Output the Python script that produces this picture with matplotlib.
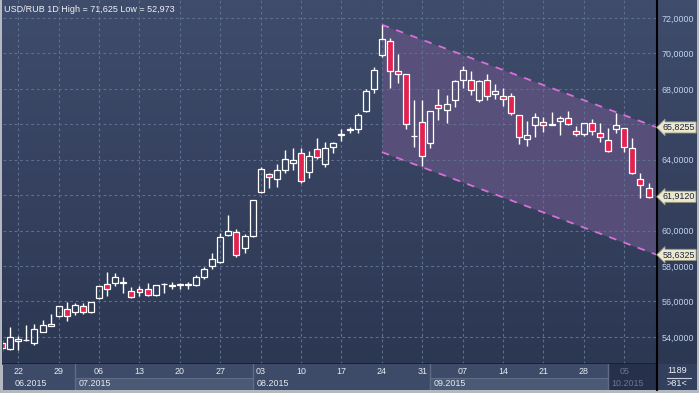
import numpy as np
import pandas as pd
import matplotlib.pyplot as plt
import matplotlib.transforms as mtransforms
from matplotlib.colors import LinearSegmentedColormap

plt.rcParams['font.family'] = ['Liberation Sans', 'DejaVu Sans']

W, H = 699, 393

# дневные свечи USD/RUB, 18.06.2015 - 08.10.2015
dates = pd.bdate_range('2015-06-18', periods=81)
opens = [53.65, 53.30, 53.78, 53.82, 53.68, 54.30, 54.62, 55.18, 55.56, 55.43,
         55.75, 55.43, 56.22, 56.97, 57.03, 57.10, 56.59, 56.69, 56.69, 56.35,
         56.98, 56.90, 56.93, 56.95, 56.92, 57.37, 58.00, 58.25, 59.75, 59.91,
         59.00, 59.68, 62.16, 63.18, 62.90, 63.40, 63.80, 64.36, 63.29, 64.62,
         63.74, 64.74, 65.42, 65.69, 65.72, 66.77, 67.98, 69.89, 70.72, 68.99,
         68.82, 65.36, 66.11, 64.93, 67.07, 66.79, 67.36, 68.48, 68.48, 67.36,
         68.48, 67.71, 67.58, 67.60, 66.53, 65.15, 65.94, 66.11, 66.01, 66.17,
         66.34, 65.61, 65.45, 66.06, 65.49, 65.11, 65.75, 65.78, 64.65, 62.90,
         62.39]
highs = [53.80, 54.55, 54.05, 54.67, 54.73, 54.96, 55.30, 55.77, 55.97, 55.90,
         55.93, 55.99, 56.90, 57.67, 57.59, 57.37, 56.84, 56.88, 57.06, 56.93,
         57.06, 57.10, 57.06, 57.10, 57.52, 57.97, 58.72, 59.88, 60.88, 60.07,
         59.80, 61.75, 63.61, 63.27, 63.76, 64.55, 64.66, 64.65, 64.49, 65.23,
         65.00, 65.00, 65.74, 65.87, 66.62, 67.99, 69.25, 71.625, 70.85, 69.95,
         68.84, 67.37, 67.37, 66.77, 67.99, 67.65, 68.50, 69.29, 69.01, 68.48,
         68.84, 68.28, 68.03, 67.79, 66.55, 66.21, 66.62, 66.40, 66.70, 66.47,
         66.73, 65.91, 66.10, 66.28, 66.09, 65.78, 66.62, 65.80, 65.21, 63.24,
         62.67]
lows = [53.20, 53.25, 53.27, 53.78, 53.56, 54.25, 54.60, 55.15, 54.92, 55.24,
        55.27, 55.35, 56.13, 56.31, 56.88, 56.50, 56.18, 56.31, 56.33, 56.33,
        56.46, 56.70, 56.69, 56.69, 56.85, 57.26, 57.82, 58.16, 59.72, 58.50,
        58.76, 59.66, 62.10, 62.39, 62.48, 63.27, 63.44, 62.67, 62.99, 64.02,
        63.61, 64.36, 65.04, 65.49, 65.49, 66.71, 67.79, 69.78, 68.07, 68.35,
        65.72, 64.74, 63.67, 64.68, 66.24, 66.09, 66.99, 68.05, 67.64, 67.27,
        67.37, 67.45, 67.03, 66.53, 64.89, 64.79, 65.27, 65.58, 65.97, 65.40,
        65.97, 65.34, 65.34, 65.40, 65.02, 64.46, 65.53, 64.46, 63.22, 61.83,
        61.83]
closes = [53.40, 53.98, 53.87, 53.84, 54.43, 54.66, 54.72, 55.75, 55.20, 55.80,
          55.43, 55.97, 56.88, 56.69, 57.37, 57.06, 56.27, 56.52, 56.35, 56.92,
          56.96, 56.94, 56.95, 56.97, 57.37, 57.82, 58.38, 59.62, 59.96, 58.61,
          59.68, 61.73, 63.48, 63.01, 63.40, 64.03, 63.97, 62.78, 64.19, 64.13,
          64.65, 64.93, 65.46, 65.71, 66.51, 67.88, 69.05, 70.80, 68.99, 68.82,
          66.00, 65.32, 64.19, 66.75, 66.90, 67.15, 68.43, 69.05, 67.92, 68.43,
          67.58, 67.86, 67.41, 66.66, 65.27, 65.40, 66.40, 65.94, 65.99, 66.34,
          66.00, 65.44, 66.06, 65.64, 65.30, 64.48, 65.94, 64.70, 63.24, 62.56,
          61.912]

# канал: верхняя линия от максимума до правого края, нижняя параллельна
chan_upper = [71.625, 65.8255]
chan_lower_end = 58.6325
yticks = list(range(54, 73, 2))
month_starts = ['2015-07-01', '2015-08-01', '2015-09-01', '2015-10-01']
month_names = ['06.2015', '07.2015', '08.2015', '09.2015', '10.2015']
title = 'USD/RUB 1D High = 71,625 Low = 52,973'


def box(x0, y0, x1, y1):
    return [x0 / W, 1 - y1 / H, (x1 - x0) / W, (y1 - y0) / H]


def fmt(v):
    return f'{v:.4f}'.replace('.', ',')


fig = plt.figure(figsize=(W / 100, H / 100), dpi=100, facecolor='#b4b8c0')

# фон с градиентом
bg = fig.add_axes(box(2, 0, 697, 364))
grad = LinearSegmentedColormap.from_list('g', ['#2c3752', '#3f4c6b'])
bg.imshow(np.linspace(0, 1, 256).reshape(-1, 1)[::-1], aspect='auto',
          cmap=grad, extent=[0, 1, 0, 1])
bg.axis('off')

ax = fig.add_axes(box(3, 0, 657, 364))
ax.set_facecolor('none')
xmin, xmax = 0.107, 81.05
ax.set_xlim(xmin, xmax)
ax.set_ylim(52.47, 73.02)

x = np.arange(len(dates))
mondays = x[dates.weekday == 0]
markers = [chan_upper[1], closes[-1], chan_lower_end]
ax.set_xticks(mondays)
ax.set_yticks(yticks)
ax.grid(True, color='#5e6e8f', lw=0.8, ls=(0, (2.5, 2.5)))
ax.tick_params(axis='x', length=0, labelbottom=False)
ax.yaxis.tick_right()
# подписи, закрытые метками, не показываются
ax.set_yticklabels(['' if min(abs(v - m) for m in markers) < 0.45 else fmt(v)
                    for v in yticks])
ax.tick_params(axis='y', length=0, pad=3, labelsize=6.4, labelcolor='#c3d5f1')
for s in ['top', 'left']:
    ax.spines[s].set_visible(False)
ax.spines['right'].set_color('black')
ax.spines['right'].set_linewidth(1.5)
ax.spines['bottom'].set_color('#161d2e')
ax.spines['bottom'].set_linewidth(1.2)

# канал
k0 = int(np.argmax(highs))
cx = np.array([k0, xmax])
up_line = np.array(chan_upper)
lo_line = up_line - (chan_upper[1] - chan_lower_end)
ax.fill_between(cx, lo_line, up_line, color='#625483', alpha=0.75, lw=0, zorder=1)
for line in (up_line, lo_line):
    ax.plot(cx, line, color='#d870d8', lw=1.3, dashes=(4.2, 4.2), zorder=2)

# свечи
o, h, l, c = map(np.array, (opens, highs, lows, closes))
top = np.maximum(o, c)
bot = np.minimum(o, c)
ax.vlines(x, top, h, color='white', lw=1, zorder=3)
ax.vlines(x, l, bot, color='white', lw=1, zorder=3)
face = np.where(c >= o, 'none', '#e2224f')
ax.bar(x, np.maximum(top - bot, 0.03), bottom=bot, width=0.74, color=face,
       edgecolor='white', lw=0.9, zorder=4)

# метки справа
trans = mtransforms.blended_transform_factory(ax.transAxes, ax.transData)
for val in markers:
    ax.annotate(fmt(val), xy=(1, val), xycoords=trans,
                xytext=(4, 0), textcoords='offset points', ha='left', va='center',
                fontsize=6.4, color='#1e2538', annotation_clip=False,
                bbox=dict(boxstyle='larrow,pad=0.12', fc='#ebe8d0', ec='#9a967e', lw=0.6))

fig.text(3.5 / W, 1 - 9 / H, title, ha='left', va='center', color='#eef1f7', fontsize=6.5)

# нижняя шкала дат
bx = fig.add_axes(box(3, 364, 657, 390))
bx.set_xlim(xmin, xmax)
bx.set_ylim(0, 1)
bx.set_facecolor('#3d4a68')
bx.set_xticks([])
bx.set_yticks([])
for s in bx.spines.values():
    s.set_visible(False)

seps = [int(dates.searchsorted(pd.Timestamp(m), side='right')) - 1 for m in month_starts]
bounds = [xmin] + seps + [xmax]
for j in range(len(month_names)):
    a, b = bounds[j], bounds[j + 1]
    last = j == len(month_names) - 1
    if last:
        bx.axvspan(a, b, 0, 1, color='#27304a', lw=0)
    elif j % 2 == 1:
        bx.axvspan(a, b, 0, 0.46, color='#4c5975', lw=0)
        bx.plot([a, b], [0.46, 0.46], color='#5f6c88', lw=0.8)
    if j > 0:
        bx.axvline(a, color='#5f6c88', lw=1)
    lx = mondays[0] - 0.5 if j == 0 else a + 0.45
    bx.text(lx, 0.25, month_names[j], ha='left', va='center', fontsize=6.4,
            color='#6a7693' if last else '#e6ebf4')

for m in mondays:
    cur = m >= seps[-1]
    bx.text(m, 0.7, f'{dates[m].day:02d}', ha='center', va='center', fontsize=6.4,
            color='#6a7693' if cur else '#e6ebf4')

# правый нижний угол
rx = fig.add_axes(box(657, 364, 697, 390))
rx.set_facecolor('#33405d')
rx.set_xlim(0, 1)
rx.set_ylim(0, 1)
rx.set_xticks([])
rx.set_yticks([])
for s in rx.spines.values():
    s.set_visible(False)
rx.spines['left'].set_visible(True)
rx.spines['left'].set_color('black')
rx.spines['left'].set_linewidth(1.5)
rx.text(0.5, 0.74, '1189', ha='center', va='center', fontsize=6.6, color='#e6ebf4')
rx.text(0.5, 0.24, '>81<', ha='center', va='center', fontsize=6.6, color='#e6ebf4')
rx.plot([0.24, 0.84], [0.47, 0.47], color='#c8cedc', lw=0.8)

fig.savefig('out.png', dpi=100, facecolor=fig.get_facecolor())
